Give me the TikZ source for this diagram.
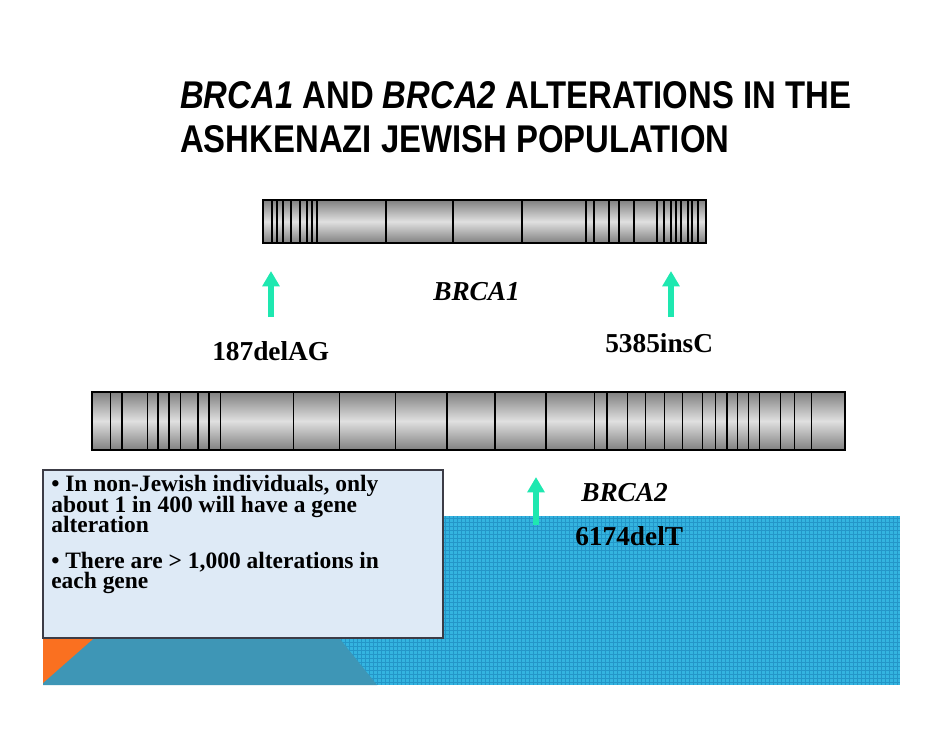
\documentclass[tikz,border=0pt]{standalone}
\usepackage{fontspec}
\setmainfont{Liberation Serif}
\newfontfamily\titlefont[FakeStretch=0.85]{Liberation Sans}
\usetikzlibrary{arrows.meta}
\definecolor{arrowc}{RGB}{30,232,176}
\definecolor{bluebg}{RGB}{52,180,224}
\definecolor{gridc}{RGB}{36,150,200}
\definecolor{tealbg}{RGB}{62,150,182}
\definecolor{orangebg}{RGB}{250,112,32}
\definecolor{boxbg}{RGB}{222,234,246}
\definecolor{boxline}{RGB}{60,60,70}
\definecolor{bardark}{RGB}{128,128,128}
\definecolor{barlight}{RGB}{224,224,224}
\tikzset{
  barshade/.style={top color=bardark, bottom color=bardark, middle color=barlight},
  barframe/.style={draw=black, line width=1.6pt},
  exonline/.style={draw=black, line width=0.9pt},
  mutarrow/.style={draw=arrowc, line width=4.6pt, -{Triangle[width=12.5pt,length=11.5pt]}},
  lbl/.style={inner sep=0pt, font=\fontsize{20.5}{24}\selectfont\bfseries},
  genelbl/.style={inner sep=0pt, font=\fontsize{20.5}{24}\selectfont\bfseries\itshape},
  titletext/.style={inner sep=0pt, font=\titlefont\fontsize{29}{34}\selectfont\bfseries},
  boxline/.style={inner sep=0pt, anchor=base west, font=\fontsize{17.6}{20}\selectfont\bfseries},
}
\begin{document}
\begin{tikzpicture}[x=0.75pt,y=-0.75pt]
\useasboundingbox (0,0) rectangle (942,728);
\fill[white] (0,0) rectangle (942,728);

% background decoration
\fill[bluebg] (43,516) rectangle (900,685);
\begin{scope}
\clip (43,516) rectangle (900,685);
\foreach \x in {45,49,...,900} \draw[gridc, line width=0.3pt] (\x,516) -- (\x,685);
\foreach \y in {518,522,...,685} \draw[gridc, line width=0.3pt] (43,\y) -- (900,\y);
\end{scope}
\fill[tealbg] (43,516) -- (241,516) -- (377,685) -- (43,685) -- cycle;
\fill[orangebg] (43,639) -- (93,639) -- (43,683) -- cycle;

% title
\node[titletext, anchor=base west] (title1) at (180,108) {\textit{BRCA1} AND \textit{BRCA2} ALTERATIONS IN THE};
\node[titletext, anchor=base west] (title2) at (180,152) {ASHKENAZI JEWISH POPULATION};

% BRCA1 bar
\shade[barshade] (263,200) rectangle (706,243);
\foreach \x in {272,277,283,291,300,307,312,317,386,453,522,586,594,609,619,634,657,664,671,676,681,688,692,698}
  \draw[exonline] (\x,200) -- (\x,243);
\draw[barframe] (263,200) rectangle (706,243);

% BRCA2 bar
\shade[barshade] (92,392) rectangle (845,450);
\foreach \x in {110.5,122,147.5,158,169,180.6,198,209,220.5,293.6,339.4,395.4,447,495,546,594.6,607,627.8,645.8,664.3,682.3,702.3,715.4,727,737.8,748.5,759.7,780.7,794.8,811.4}
  \draw[exonline] (\x,392) -- (\x,450);
\draw[barframe] (92,392) rectangle (845,450);

% arrows
\coordinate (a1s) at (271,317);
\coordinate (a1e) at (271,271);
\coordinate (a2s) at (671,317);
\coordinate (a2e) at (671,271);
\coordinate (a3s) at (536,525);
\coordinate (a3e) at (536,477);
\draw[mutarrow] (a1s) -- (a1e);
\draw[mutarrow] (a2s) -- (a2e);
\draw[mutarrow] (a3s) -- (a3e);

% labels
\node[genelbl, anchor=base west] (brca1) at (433,300) {BRCA1};
\node[lbl, anchor=base west] (m187) at (212,360) {187delAG};
\node[lbl, anchor=base west] (m5385) at (605,352) {5385insC};
\node[genelbl, anchor=base west] (brca2) at (581,501) {BRCA2};
\node[lbl, anchor=base west] (m6174) at (575,545) {6174delT};

% text box
\draw[fill=boxbg, draw=boxline, line width=0.9pt] (43,470) rectangle (443,638);
\node[boxline] (bx1) at (51,491) {\textbullet{} In non-Jewish individuals, only};
\node[boxline] (bx2) at (51,512) {about 1 in 400 will have a gene};
\node[boxline] (bx3) at (51,532) {alteration};
\node[boxline] (bx4) at (51,568) {\textbullet{} There are > 1,000 alterations in};
\node[boxline] (bx5) at (51,588) {each gene};
\end{tikzpicture}
\end{document}
